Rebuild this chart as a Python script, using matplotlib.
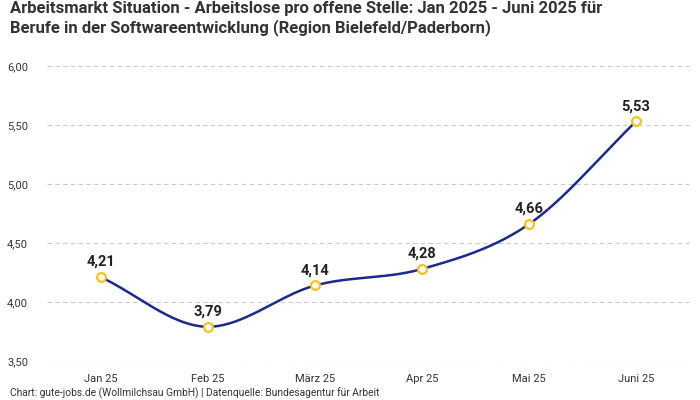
import matplotlib.pyplot as plt
import numpy as np

months = ['Jan 25', 'Feb 25', 'März 25', 'Apr 25', 'Mai 25', 'Juni 25']
values = [4.21, 3.79, 4.14, 4.28, 4.66, 5.53]
y_ticks = [3.5, 4.0, 4.5, 5.0, 5.5, 6.0]

plt.rcParams['font.family'] = ['Roboto', 'DejaVu Sans']


def monotone_curve(x, y, n=40):
    # Fritsch-Carlson monotone cubic, like chart.js "monotone"
    x = np.asarray(x, float)
    y = np.asarray(y, float)
    h = np.diff(x)
    d = np.diff(y) / h
    m = np.zeros_like(y)
    m[0], m[-1] = d[0], d[-1]
    for i in range(1, len(y) - 1):
        if d[i - 1] * d[i] <= 0:
            m[i] = 0
        else:
            m[i] = (d[i - 1] + d[i]) / 2
    for i in range(len(d)):
        if d[i] == 0:
            m[i] = m[i + 1] = 0
            continue
        a, b = m[i] / d[i], m[i + 1] / d[i]
        s = a * a + b * b
        if s > 9:
            t = 3 / np.sqrt(s)
            m[i], m[i + 1] = t * a * d[i], t * b * d[i]
    xs, ys = [], []
    for i in range(len(d)):
        t = np.linspace(0, 1, n)
        h00 = 2 * t**3 - 3 * t**2 + 1
        h10 = t**3 - 2 * t**2 + t
        h01 = -2 * t**3 + 3 * t**2
        h11 = t**3 - t**2
        xs.append(x[i] + t * h[i])
        ys.append(h00 * y[i] + h10 * h[i] * m[i] + h01 * y[i + 1] + h11 * h[i] * m[i + 1])
    return np.concatenate(xs), np.concatenate(ys)


fig = plt.figure(figsize=(7, 4), dpi=100)
ax = fig.add_axes([47.5 / 700, 1 - 361 / 400, 642 / 700, 295 / 400])

xpos = np.arange(len(months))
cx, cy = monotone_curve(xpos, values)
ax.plot(cx, cy, color='#1c2a8c', linewidth=1.8, zorder=3)
ax.scatter(xpos, values, s=40, facecolor='white', edgecolor='#f7c21b', linewidth=1.6, zorder=4)

for x, v in zip(xpos, values):
    ax.annotate(f'{v:.2f}'.replace('.', ','), (x, v), xytext=(0, 6), textcoords='offset points',
                ha='center', va='bottom', fontsize=10.5, fontweight='bold', color='#222222')

ax.set_xlim(-0.5, 5.5)
ax.set_ylim(3.5, 6.0)
ax.set_yticks(y_ticks)
ax.set_yticklabels([f'{t:.2f}'.replace('.', ',') for t in y_ticks])
ax.set_xticks(xpos)
ax.set_xticklabels(months)
ax.grid(axis='y', color='#cccccc', linestyle=(0, (4, 3)), linewidth=0.8)
ax.tick_params(length=0, labelsize=8, colors='#333333', pad=9)
ax.tick_params(axis='y', pad=14)
for s in ax.spines.values():
    s.set_visible(False)

fig.text(10 / 700, 1 - 1 / 400, 'Arbeitsmarkt Situation - Arbeitslose pro offene Stelle: Jan 2025 - Juni 2025 für\nBerufe in der Softwareentwicklung (Region Bielefeld/Paderborn)',
         ha='left', va='top', fontsize=12, fontweight='bold', color='#333333', linespacing=1.25)
fig.text(10 / 700, 1 - 393 / 400, 'Chart: gute-jobs.de (Wollmilchsau GmbH) | Datenquelle: Bundesagentur für Arbeit',
         ha='left', va='center', fontsize=7.4, color='#333333')

fig.savefig('out.png', dpi=100)
